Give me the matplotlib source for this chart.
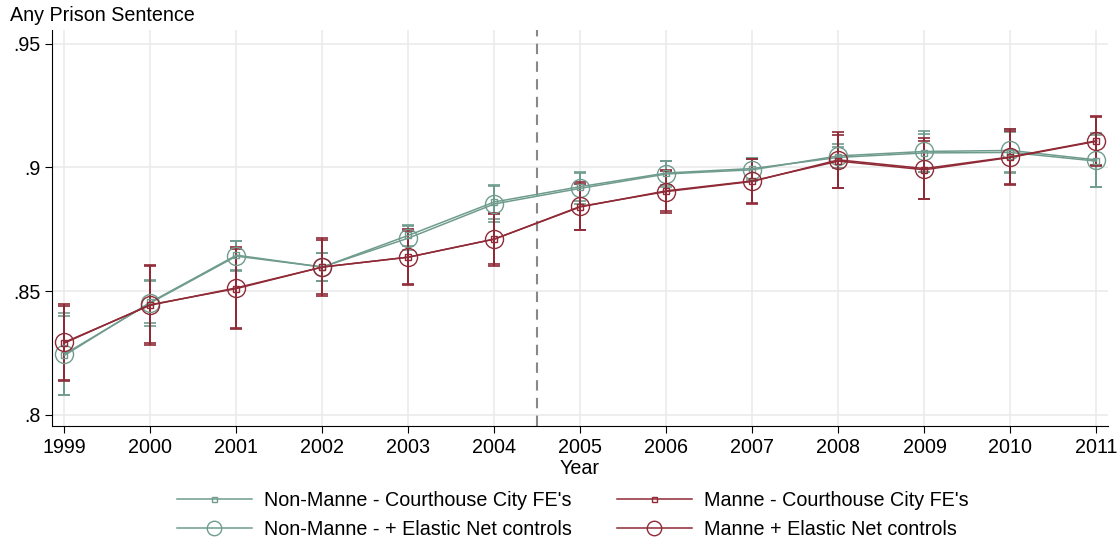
import matplotlib
matplotlib.use("Agg")
import matplotlib.pyplot as plt
from matplotlib.ticker import FuncFormatter
import numpy as np

plt.rcParams['font.family'] = ['Liberation Sans', 'DejaVu Sans']

years = np.arange(1999, 2012)

# point estimates
nm_fe = [.8240, .8455, .8645, .8597, .8725, .8860, .8922, .8977, .8995, .9040, .9058, .9060, .9025]
nm_en = [.8245, .8452, .8641, .8597, .8714, .8852, .8915, .8973, .8990, .9046, .9064, .9068, .9030]
m_fe = [.8290, .8445, .8510, .8597, .8637, .8710, .8840, .8905, .8945, .9025, .8990, .9040, .9105]
m_en = [.8293, .8443, .8513, .8597, .8637, .8710, .8842, .8902, .8943, .9030, .8995, .9042, .9107]

# half-widths of confidence intervals
nm_fe_err = [.0160, .0085, .0058, .0055, .0043, .0068, .0058, .0048, .0043, .0043, .0078, .0082, .0105]
nm_en_err = [.0165, .0092, .0062, .0058, .0047, .0072, .0062, .0052, .0047, .0047, .0082, .0088, .0110]
m_fe_err = [.0150, .0155, .0160, .0110, .0107, .0102, .0092, .0082, .0088, .0107, .0117, .0107, .0097]
m_en_err = [.0156, .0162, .0167, .0117, .0112, .0107, .0097, .0087, .0092, .0112, .0122, .0112, .0102]

labels = ["Non-Manne - Courthouse City FE's", "Non-Manne - + Elastic Net controls",
          "Manne - Courthouse City FE's", "Manne + Elastic Net controls"]

teal = "#6f9c8e"
red = "#8f2a36"
fs = 14.2

fig = plt.figure(figsize=(11.2, 5.44), dpi=100)
ax = fig.add_axes([0.046, 0.217, 0.943, 0.728])

series = [
    (nm_fe, nm_fe_err, teal, 's', 4.5, labels[0]),
    (nm_en, nm_en_err, teal, 'o', 13, labels[1]),
    (m_fe, m_fe_err, red, 's', 4.5, labels[2]),
    (m_en, m_en_err, red, 'o', 13, labels[3]),
]
handles = []
for vals, err, col, mk, ms, lab in series:
    ax.errorbar(years, vals, yerr=err, fmt='none', ecolor=col, elinewidth=1.4,
                capsize=4, capthick=1.2, zorder=2)
    h, = ax.plot(years, vals, color=col, lw=1.1, marker=mk, ms=ms,
                 mfc='none', mec=col, mew=1.0, label=lab, zorder=3)
    handles.append(h)

ax.axvline(2004.5, color='#888888', lw=1.5, ls=(0, (5, 3.5)), zorder=1)

ax.set_xlim(1998.85, 2011.13)
ax.set_ylim(0.7955, 0.9555)
ax.set_xticks(years)
ax.set_yticks([.8, .85, .9, .95])
ax.yaxis.set_major_formatter(FuncFormatter(lambda v, p: ("%g" % v).lstrip('0')))
ax.grid(True, color='#ebebeb', lw=1.2)
ax.set_axisbelow(True)
for s in ['top', 'right']:
    ax.spines[s].set_visible(False)
ax.tick_params(labelsize=fs, length=5, direction='out', pad=3)
ax.tick_params(axis='x', pad=4)
ax.set_xlabel("Year", fontsize=fs, labelpad=1)
fig.text(0.009, 0.972, "Any Prison Sentence", fontsize=fs, va='center', ha='left')

# two legend columns placed separately (non-Manne left, Manne right)
leg_kw = dict(loc='center left', frameon=False, fontsize=fs, handlelength=3.8,
              handletextpad=0.6, labelspacing=0.5, markerscale=0.8,
              borderpad=0, borderaxespad=0)
fig.legend(handles=handles[:2], bbox_to_anchor=(177 / 1120, 0.053), **leg_kw)
fig.legend(handles=handles[2:], bbox_to_anchor=(617 / 1120, 0.053), **leg_kw)

fig.savefig("out.png", dpi=100)
